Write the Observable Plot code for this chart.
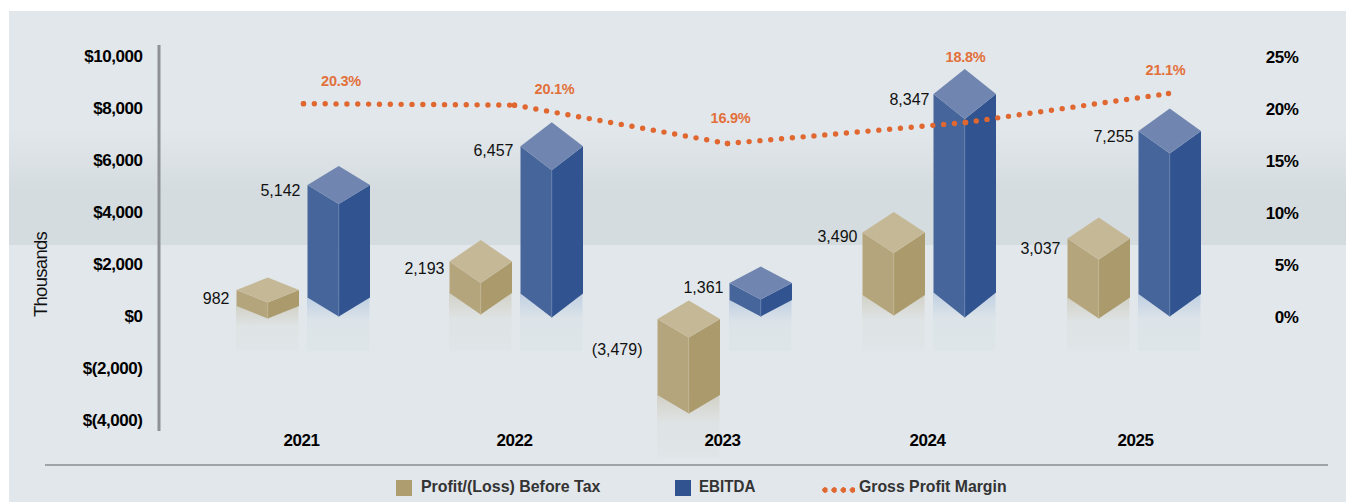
<!DOCTYPE html>
<html>
<head>
<meta charset="utf-8">
<script src="https://cdn.jsdelivr.net/npm/d3@7"></script>
<script src="https://cdn.jsdelivr.net/npm/@observablehq/plot@0.6"></script>
<style>
html,body{margin:0;padding:0;background:#fff;width:1346px;height:502px;overflow:hidden;}
#wrap{position:relative;width:1346px;height:502px;}
#panel{position:absolute;left:9px;top:11px;width:1337px;height:491px;
 background:linear-gradient(to bottom,#e2e7eb 0,#e2e7eb 118px,#d5dcdf 178px,#d5dcdf 234px,#e2e7eb 234px,#e2e7eb 100%);}
#chart{position:absolute;left:0;top:0;}
#chart g[aria-label$="tick label"]{letter-spacing:-.45px;}
#rule{position:absolute;left:45px;top:464px;width:1283px;height:2px;background:#a0a4a8;}
.lg{position:absolute;top:478px;font:bold 17px "Liberation Sans",Arial,sans-serif;color:#333;white-space:nowrap;line-height:18px;transform-origin:left center;}
.sw{position:absolute;top:480px;width:16px;height:16px;}
#ldots{position:absolute;left:821.5px;top:487px;width:34px;height:6px;background:radial-gradient(circle at 3px 3px,#e0672f 2.5px,transparent 3px) 0 0/9.2px 6px repeat-x;}
</style>
</head>
<body>
<div id="wrap">
<div id="panel"></div>
<div id="chart"></div>
<div id="rule"></div>
<div class="sw" style="left:396px;background:#ae9d6f"></div>
<div class="lg" style="left:421px;transform:scaleX(.937)">Profit/(Loss) Before Tax</div>
<div class="sw" style="left:675px;background:#315491"></div>
<div class="lg" style="left:699px;transform:scaleX(.89)">EBITDA</div>
<div id="ldots"></div>
<div class="lg" style="left:859px;transform:scaleX(.93)">Gross Profit Margin</div>
</div>
<script>
// ---- data ----
const years = [2021, 2022, 2023, 2024, 2025];
const profit = [982, 2193, -3479, 3490, 3037];
const ebitda = [5142, 6457, 1361, 8347, 7255];
const margin = [20.3, 20.1, 16.9, 18.8, 21.1];
// where the drawing actually places things (the artwork is not exactly to scale)
const profitTop = [1060, 2158, -58, 3276, 3044];
const profitBase = [-39, 116, -3699, 77, -39];
const profitDepth = [482, 829, 713, 790, 809];
const ebitdaTop = [5110, 6600, 1330, 8610, 7190];
const ebitdaBase = [39, 0, 39, 0, 39];
const ebitdaDepth = [732, 925, 636, 963, 867];
const marginDrawn = [20.6, 20.46, 16.76, 18.79, 21.58];
const reflectionEnd = [-1310, -1310, -1310, -1310, -5395, -1310, -1310, -1310, -1310, -1310];
const leftTicks = [-4000, -2000, 0, 2000, 4000, 6000, 8000, 10000];
const rightTicks = [0, 5, 10, 15, 20, 25];

// ---- layout ----
const yearPx = [301, 514, 722, 927, 1135];
const profitLeftPx = [236, 449, 657, 862, 1067];
const ebitdaLeftPx = [307, 520, 729, 933, 1138];
const marginPx = [303, 514, 727, 965, 1168];
const barPx = 62.5;
const yTopPx = 45, yBottomPx = 431, zeroPx = 317, pxPerUnit = 0.02595;
const pctToDollar = 400;
const yDomain = [(zeroPx - yBottomPx) / pxPerUnit, (zeroPx - yTopPx) / pxPerUnit];
const xOf = d3.scaleLinear().domain(years).range(yearPx);
const X = px => xOf.invert(px);
const Ypx = px => px / pxPerUnit;   // pixel length expressed in dollars

const colors = {
  profit: {left: "#b5a57c", right: "#ab9a6c", top: "#c5b897", edge: "#c6b997"},
  ebitda: {left: "#46659b", right: "#315491", top: "#7086b0", edge: "#6d86b0"}
};

// ---- one row per bar ----
const bars = [];
years.forEach((year, i) => {
  bars.push({year, kind: "profit", value: profit[i], left: profitLeftPx[i], top: profitTop[i], base: profitBase[i], depth: profitDepth[i]});
  bars.push({year, kind: "ebitda", value: ebitda[i], left: ebitdaLeftPx[i], top: ebitdaTop[i], base: ebitdaBase[i], depth: ebitdaDepth[i]});
});
bars.forEach((b, i) => { b.reflect = reflectionEnd[i]; });

// ---- faces as closed polygons in data space ----
const faces = [];
bars.forEach((b, i) => {
  const l = X(b.left), m = X(b.left + barPx / 2), r = X(b.left + barPx);
  const add = (face, pts) => pts.forEach(([x, y]) => faces.push({id: i + face, face, kind: b.kind, x, y}));
  add("left", [[l, b.top], [m, b.top - b.depth], [m, b.base], [l, b.base + b.depth]]);
  add("right", [[m, b.top - b.depth], [r, b.top], [r, b.base + b.depth], [m, b.base]]);
  add("top", [[l, b.top], [m, b.top + b.depth], [r, b.top], [m, b.top - b.depth]]);
});
const faceMark = (kind, face) => Plot.line(faces.filter(d => d.kind === kind && d.face === face), {
  x: "x", y: "y", z: "id", fill: colors[kind][face], stroke: "none", curve: "linear"
});

const edges = bars.flatMap((b, i) => {
  const m = X(b.left + barPx / 2);
  return [{id: i, kind: b.kind, x: m, y: b.top - b.depth}, {id: i, kind: b.kind, x: m, y: b.base}];
});

// ---- margin line: each segment restarts its dots, as in the original ----
const marginPts = years.map((year, i) => ({x: X(marginPx[i]), y: marginDrawn[i] * pctToDollar}));
const marginSegs = marginPts.slice(1).flatMap((p, i) => [{...marginPts[i], seg: i}, {...p, seg: i}]);

// ---- labels ----
const valueFmt = v => v < 0 ? `(${d3.format(",")(-v)})` : d3.format(",")(v);
const labelDx = [-7, -7, -5, -7, -15, -6, -5, -4, -7, -5];
const labelDy = [8.5, 5.5, 7, 5, 30.5, 5, 4, 6, 10, 6];
const valueLabels = bars.map((b, i) => ({
  x: X(b.left + labelDx[i]), y: b.top - Ypx(labelDy[i]), text: valueFmt(b.value)
}));
const marginDx = [37.5, 40, 3, 0, -3];
const marginDy = [22, 15.5, 25, 65, 23];
const marginLabels = years.map((y, i) => ({
  x: X(marginPx[i] + marginDx[i]),
  y: marginDrawn[i] * pctToDollar + Ypx(marginDy[i]),
  text: margin[i].toFixed(1) + "%"
}));

const dollar = d => d < 0 ? `$(${d3.format(",")(-d)})` : `$${d3.format(",")(d)}`;
const sans = '"Liberation Sans", Arial, sans-serif';

// gradient definitions for the reflections
const defs = () => {
  const svg = document.createElementNS("http://www.w3.org/2000/svg", "defs");
  svg.innerHTML = `
  <linearGradient id="refProfit" x1="0" y1="0" x2="0" y2="1">
    <stop offset="0" stop-color="#d2d1c6"/><stop offset="0.45" stop-color="#dee3e4"/><stop offset="1" stop-color="#dfe5e8"/>
  </linearGradient>
  <linearGradient id="refEbitda" x1="0" y1="0" x2="0" y2="1">
    <stop offset="0" stop-color="#bfcfe2"/><stop offset="0.45" stop-color="#dde4e9"/><stop offset="1" stop-color="#dee5e8"/>
  </linearGradient>`;
  return svg;
};

const plot = Plot.plot({
  width: 1346,
  height: 464,
  marginTop: yTopPx,
  marginBottom: 464 - yBottomPx,
  marginLeft: 142,
  marginRight: 48,
  style: {background: "transparent", fontFamily: sans, overflow: "visible"},
  x: {type: "linear", domain: years, range: yearPx, axis: null},
  y: {domain: yDomain, range: [yBottomPx, yTopPx], axis: null},
  marks: [
    defs,
    // reflections
    Plot.rect(bars.filter(b => b.kind === "profit"), {
      x1: b => X(b.left), x2: b => X(b.left + barPx), y1: b => b.base + b.depth, y2: "reflect", fill: "url(#refProfit)"
    }),
    Plot.rect(bars.filter(b => b.kind === "ebitda"), {
      x1: b => X(b.left), x2: b => X(b.left + barPx), y1: b => b.base + b.depth, y2: "reflect", fill: "url(#refEbitda)"
    }),
    // bar faces
    ...["profit", "ebitda"].flatMap(k => ["left", "right", "top"].map(f => faceMark(k, f))),
    ...["profit", "ebitda"].map(k => Plot.line(edges.filter(d => d.kind === k), {
      x: "x", y: "y", z: "id", stroke: colors[k].edge, strokeWidth: 0.8, strokeOpacity: 0.8
    })),
    // left axis line
    Plot.ruleX([X(158.5)], {y1: yDomain[0], y2: yDomain[1], stroke: "#8e9295", strokeWidth: 3}),
    // axes
    Plot.axisY(leftTicks, {
      anchor: "left", tickSize: 0, tickPadding: 0, dy: -1, tickFormat: dollar, fontSize: 17, fontWeight: "bold", fill: "#000", label: null
    }),
    Plot.axisY(rightTicks.map(d => d * pctToDollar), {
      anchor: "right", tickSize: 0, tickPadding: 0, textAnchor: "end", tickFormat: d => d / pctToDollar + "%", fontSize: 17, fontWeight: "bold", fill: "#000", label: null
    }),
    Plot.axisX(years, {
      anchor: "bottom", tickSize: 0, tickPadding: 2, tickFormat: d => String(d), fontSize: 17, fontWeight: "bold", fill: "#000", label: null
    }),
    Plot.text(["Thousands"], {
      x: X(41), y: Ypx(zeroPx - 274), text: d => d, rotate: -90, fontSize: 18.5, fill: "#111", textAnchor: "middle"
    }),
    // margin line
    Plot.line(marginSegs, {
      x: "x", y: "y", z: "seg", stroke: "#e0672f", strokeWidth: 5.4, strokeLinecap: "round", strokeDasharray: "0 10.85", curve: "linear"
    }),
    Plot.dot(marginPts, {x: "x", y: "y", r: 2.7, fill: "#e0672f"}),
    // labels
    Plot.text(valueLabels, {x: "x", y: "y", text: "text", textAnchor: "end", fontSize: 16, fill: "#111"}),
    Plot.text(marginLabels, {x: "x", y: "y", text: "text", fontSize: 14.5, fontWeight: "bold", fill: "#e2703a"})
  ]
});
document.getElementById("chart").appendChild(plot);
// narrow a few labels to the condensed look of the original
d3.select(plot).selectAll("text").each(function () {
  const t = this.textContent;
  if (t === "Thousands") this.style.letterSpacing = "-.7px";
  else if (t.endsWith("%") && t.includes(".")) this.style.letterSpacing = "-.25px";
});
</script>
</body>
</html>
